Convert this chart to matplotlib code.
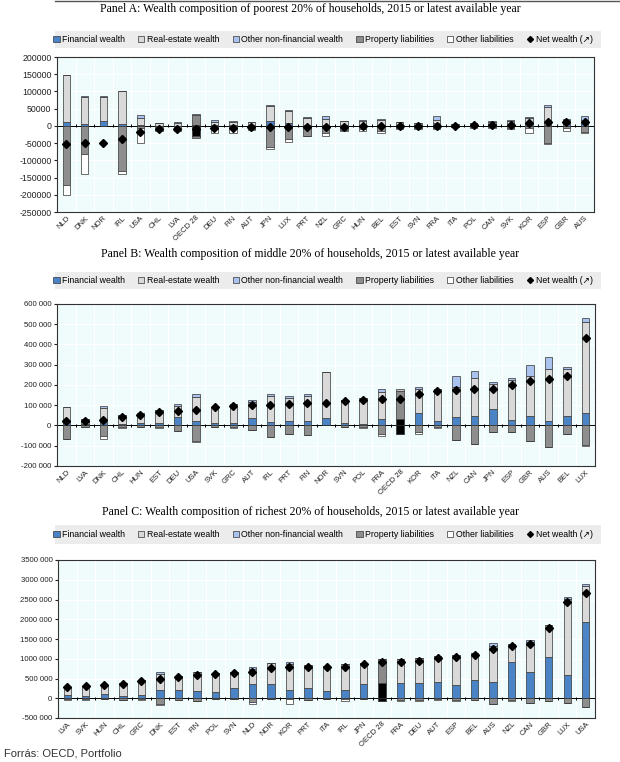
import numpy as np
import matplotlib
matplotlib.use('Agg')
import matplotlib.pyplot as plt
from matplotlib.patches import Rectangle, Patch
from matplotlib.lines import Line2D

plt.rcParams['font.family'] = ['Liberation Sans', 'DejaVu Sans']

# --- Panel A: poorest 20% (thousand USD) ---
cats_a = ['NLD', 'DNK', 'NOR', 'IRL', 'USA', 'CHL', 'LVA', 'OECD 28', 'DEU', 'FIN',
          'AUT', 'JPN', 'LUX', 'PRT', 'NZL', 'GRC', 'HUN', 'BEL', 'EST', 'SVN',
          'FRA', 'ITA', 'POL', 'CAN', 'SVK', 'KOR', 'ESP', 'GBR', 'AUS']
fin_a = [10, 6, 15, 5, 3, 1, 1, 4, 2, 2, 2, 15, 9, 2, 4, 2, 2, 2, 1, 1, 8, 1, 1, 2, 2, 8, 4, 6, 8]
re_a = [137, 77, 68, 95, 20, 7, 8, 29, 10, 10, 8, 42, 33, 22, 17, 12, 12, 16, 9, 7, 10, 5, 7, 10, 12, 16, 51, 10, 9]
oth_a = [1, 5, 4, 1, 8, 1, 1, 1, 5, 3, 0, 5, 5, 3, 7, 0, 2, 3, 1, 0, 12, 0, 0, 2, 2, 2, 5, 4, 12]
prop_a = [-172, -83, 0, -131, -5, -3, -6, -29, -8, -7, -10, -61, -37, -28, -22, -11, -9, -14, -7, -6,
          -6, -2, -3, -3, -5, -5, -50, -5, -18]
othl_a = [-28, -56, 0, -8, -46, -12, -10, -5, -13, -13, -3, -5, -10, -2, -8, -4, -6, -7, -3, -3,
          -4, -1, -3, -2, -3, -16, -3, -10, -2]
net_a = [-52, -51, -51, -38, -19, -10, -9, -8, -7, -6, -4, -3.5, -3, -2.5, -2, -2, -1.5, -1, -0.5, 0,
         0.5, 1, 1.5, 2, 2.5, 7, 11, 11.5, 12]

# --- Panel B: middle 20% ---
cats_b = ['NLD', 'LVA', 'DNK', 'CHL', 'HUN', 'EST', 'DEU', 'USA', 'SVK', 'GRC',
          'AUT', 'IRL', 'PRT', 'FIN', 'NOR', 'SVN', 'POL', 'FRA', 'OECD 28', 'KOR',
          'ITA', 'NZL', 'CAN', 'JPN', 'ESP', 'GBR', 'AUS', 'BEL', 'LUX']
fin_b = [18, 5, 15, 5, 12, 12, 40, 22, 12, 10, 38, 16, 22, 20, 35, 10, 8, 32, 30, 60,
         22, 40, 45, 80, 25, 45, 20, 45, 60]
re_b = [75, 25, 73, 48, 48, 65, 58, 121, 81, 94, 78, 131, 113, 127, 228, 116, 128, 135, 138, 122,
        160, 150, 190, 126, 199, 199, 260, 235, 449]
oth_b = [0, 0, 8, 0, 0, 0, 8, 12, 0, 0, 8, 11, 10, 11, 0, 0, 0, 13, 10, 10,
         0, 56, 36, 10, 10, 53, 56, 10, 23]
prop_b = [-68, -6, -50, -5, -5, -6, -29, -75, -5, -6, -22, -55, -42, -47, 0, -5, -8, -44, -42, -30,
          -8, -73, -90, -34, -34, -77, -105, -44, -95]
othl_b = [0, -3, -18, -6, -4, -5, 0, -8, -3, -4, 0, 0, 0, -1, 0, -4, -6, -6, 0, -12,
          -6, 0, 0, 0, 0, 0, 0, 0, -8]
net_b = [20, 23, 26, 40, 53, 67, 73, 76, 89, 97, 100, 101, 106, 110, 112, 119, 126, 130, 130, 154,
         170, 177, 181, 182, 201, 221, 230, 246, 432]

# --- Panel C: richest 20% ---
cats_c = ['LVA', 'SVK', 'HUN', 'CHL', 'GRC', 'DNK', 'EST', 'FIN', 'POL', 'SVN',
          'NLD', 'NOR', 'KOR', 'PRT', 'ITA', 'IRL', 'JPN', 'OECD 28', 'FRA', 'DEU',
          'AUT', 'ESP', 'BEL', 'AUS', 'NZL', 'CAN', 'GBR', 'LUX', 'USA']
fin_c = [75, 55, 105, 50, 75, 210, 200, 190, 165, 260, 360, 360, 210, 260, 190, 200, 360, 385, 395, 378,
         403, 344, 470, 420, 910, 673, 1046, 590, 1924]
re_c = [185, 220, 222, 336, 387, 415, 355, 475, 465, 405, 370, 530, 658, 573, 626, 675, 533, 600, 598, 640,
        675, 751, 676, 910, 463, 743, 808, 1925, 920]
oth_c = [0, 0, 0, 0, 0, 40, 0, 0, 0, 0, 53, 0, 50, 0, 0, 0, 0, 15, 0, 0,
         0, 0, 0, 60, 0, 50, 0, 40, 48]
prop_c = [-30, -25, -20, -50, -30, -145, -35, -60, -22, -22, -95, -15, -25, -35, -22, -30, -15, -70, -55, -55,
          -30, -55, -35, -145, -55, -120, -70, -112, -213]
othl_c = [-10, -10, -7, 0, -5, -25, -5, 0, -5, -5, -50, -5, -120, -5, -5, -48, -5, 0, -5, -5,
          -5, -5, -5, 0, -5, 0, -8, 0, 0]
net_c = [275, 298, 330, 360, 444, 480, 540, 600, 605, 640, 656, 766, 785, 788, 785, 790, 866, 915, 920, 934,
         1019, 1036, 1095, 1247, 1314, 1373, 1770, 2437, 2656]

LABELS = ['Financial wealth', 'Real-estate wealth', 'Other non-financial wealth',
          'Property liabilities', 'Other liabilities', 'Net wealth (\u2197)']

COLS = ['#4a83c6', '#d9d9d9', '#a9c2ee', '#8e8e8e', '#ffffff']
OECD_COLS = ['#000000', '#8a8a8a', '#c4c4c4', '#000000', '#8a8a8a']
EDGE = '#333333'
AX_BG = '#f0fcfc'
W, H = 620, 762


def fig_rect(left, top, right, bottom):
    return [left / W, 1 - bottom / H, (right - left) / W, (bottom - top) / H]


def fmt_space(v, pos=None):
    v = int(round(v))
    if v == 0:
        return '0'
    return '%d 000' % (v // 1000) if v > 0 else '-%d 000' % (-v // 1000)


def fmt_plain(v, pos=None):
    return '%d' % int(round(v))


def draw_panel(rect, cats, fin, re_, oth, prop, othl, net, ylim, step, fmt, tick_fs):
    ax = fig.add_axes(rect)
    ax.set_facecolor(AX_BG)
    n = len(cats)
    x = np.arange(n)
    k = 1000.0
    fin = np.array(fin) * k
    re_ = np.array(re_) * k
    oth = np.array(oth) * k
    prop = np.array(prop) * k
    othl = np.array(othl) * k
    net = np.array(net) * k

    segs = [(fin, 0), (re_, fin), (oth, fin + re_), (prop, 0), (othl, prop)]
    for j, (h, b) in enumerate(segs):
        cols = [OECD_COLS[j] if c == 'OECD 28' else COLS[j] for c in cats]
        ax.bar(x, h, 0.4, bottom=b, color=cols, edgecolor=EDGE, linewidth=0.5, zorder=3)
    ax.plot(x, net, 'D', color='black', ms=4.4, zorder=5)

    ax.set_xlim(-0.5, n - 0.5)
    ax.set_ylim(*ylim)
    ax.set_yticks(np.arange(ylim[0], ylim[1] + 1, step))
    ax.yaxis.set_major_formatter(plt.FuncFormatter(fmt))
    ax.yaxis.grid(True, color='white', lw=0.8, zorder=0)
    bounds = np.arange(n + 1) - 0.5
    ax.vlines(bounds, ylim[0], ylim[1], color='white', lw=0.8, zorder=0)
    ax.axhline(0, color='black', lw=0.7, zorder=2)
    d = (ylim[1] - ylim[0]) * 0.01
    ax.vlines(bounds[1:-1], -d, d, color='black', lw=0.7, zorder=2)

    ax.set_xticks(x)
    ax.set_xticklabels(cats, rotation=45, ha='right', rotation_mode='anchor', fontsize=5.5, color='#222222')
    ax.tick_params(axis='x', length=0, pad=2)
    ax.tick_params(axis='y', length=2, labelsize=tick_fs, colors='#222222', pad=2)
    for s in ax.spines.values():
        s.set_color('#333333')
        s.set_linewidth(0.8)
    return ax


def draw_header(title, title_y, leg_top, leg_bottom):
    fig.text(0.5, 1 - title_y / H, title, ha='center', va='center',
             family='Liberation Serif', fontsize=8.5)
    fig.patches.append(Rectangle((55 / W, 1 - leg_bottom / H), (601 - 55) / W, (leg_bottom - leg_top) / H,
                                 transform=fig.transFigure, facecolor='#ececec', edgecolor='none', zorder=0))
    handles = [Patch(facecolor=c, edgecolor=EDGE, linewidth=0.5) for c in COLS]
    handles.append(Line2D([], [], marker='D', color='black', ls='none', ms=3))
    fig.legend(handles, LABELS, loc='center', ncol=6, frameon=False, fontsize=6.3,
               bbox_to_anchor=(323 / W, 1 - (leg_top + leg_bottom) / 2 / H),
               handlelength=0.7, handleheight=0.7, handletextpad=0.3, columnspacing=1.5,
               borderaxespad=0, borderpad=0)


fig = plt.figure(figsize=(W / 100, H / 100), dpi=100)

draw_header('Panel A: Wealth composition of poorest 20% of households, 2015 or latest available year', 9, 31, 48)
draw_panel(fig_rect(57, 57, 594, 212), cats_a, fin_a, re_a, oth_a, prop_a, othl_a, net_a,
           (-250000, 200000), 50000, fmt_plain, 6.3)

draw_header('Panel B: Wealth composition of middle 20% of households, 2015 or latest available year', 254, 272, 289)
draw_panel(fig_rect(57, 304, 595, 466), cats_b, fin_b, re_b, oth_b, prop_b, othl_b, net_b,
           (-200000, 600000), 100000, fmt_space, 5.6)

draw_header('Panel C: Wealth composition of richest 20% of households, 2015 or latest available year', 512, 525, 544)
draw_panel(fig_rect(58, 560, 595, 718), cats_c, fin_c, re_c, oth_c, prop_c, othl_c, net_c,
           (-500000, 3500000), 500000, fmt_space, 5.6)

fig.text(4 / W, 1 - 754 / H, 'Forrás: OECD, Portfolio', ha='left', va='center', fontsize=8, color='#333333')
fig.add_artist(Line2D([55 / W, 1], [0.999, 0.999], transform=fig.transFigure, color='#555555', lw=1))

fig.savefig('out.png', dpi=100)
